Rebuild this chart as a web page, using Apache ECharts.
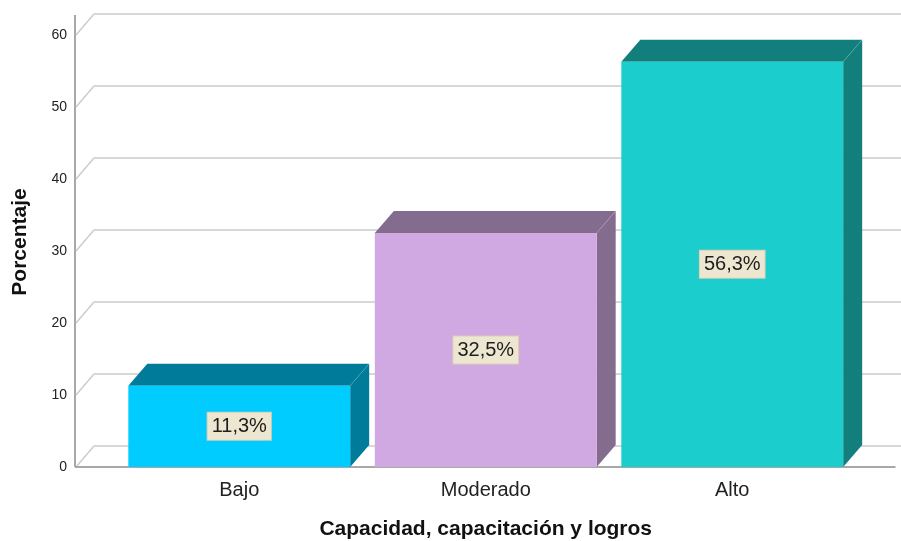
<!DOCTYPE html>
<html>
<head>
<meta charset="utf-8">
<script src="https://cdn.jsdelivr.net/npm/echarts@6/dist/echarts.min.js"></script>
<style>
  html, body { margin: 0; padding: 0; background: #ffffff; }
  #chart { width: 901px; height: 541px; }
</style>
</head>
<body>
<div id="chart"></div>
<script>
// Categories and percentages
var categories = ['Bajo', 'Moderado', 'Alto'];
var percentages = [11.3, 32.5, 56.3];
var yTicks = [0, 10, 20, 30, 40, 50, 60];

// Face colours: front face, and the darker top/side faces
var frontColors = ['#00CCFF', '#D0A9E3', '#1CCDCD'];
var darkColors = ['#007B9A', '#846C8E', '#127F7C'];

// Depth of the 3D effect (pixels)
var DX = 19, DY = 22;
var AXIS_SHIFT = 41; // front y-axis sits to the left of the category band area

var FONT = '"Liberation Sans", Arial, sans-serif';

function fmt(v) { return v.toFixed(1).replace('.', ',') + '%'; }

function renderFrame(params, api) {
  var cs = params.coordSys;
  var v = api.value(1);
  var y = api.coord([0, v])[1];
  var ax = cs.x - AXIS_SHIFT;
  var children = [{
    type: 'polyline',
    shape: { points: [[ax + 1, y], [ax + DX, y - DY + 1], [cs.x + cs.width + 80, y - DY + 1]] },
    style: { stroke: '#cccccc', lineWidth: 1.5, fill: null }
  }];
  if (v === 0) {
    children.push({
      type: 'line',
      shape: { x1: ax, y1: cs.y - 20, x2: ax, y2: y },
      style: { stroke: '#a8a8a8', lineWidth: 2 }
    });
    children.push({
      type: 'line',
      shape: { x1: ax, y1: y, x2: cs.x + cs.width + 40, y2: y },
      style: { stroke: '#a8a8a8', lineWidth: 2 }
    });
  }
  return { type: 'group', children: children };
}

function renderBar(params, api) {
  var i = api.value(0);
  var v = api.value(1);
  var base = api.coord([i, 0]);
  var top = api.coord([i, v]);
  var w = api.size([1, 0])[0] * 0.9;
  var x0 = base[0] - w / 2, x1 = base[0] + w / 2;
  var y0 = base[1], y1 = top[1];
  var front = frontColors[params.dataIndex];
  var dark = darkColors[params.dataIndex];
  return {
    type: 'group',
    children: [
      {
        type: 'polygon',
        shape: { points: [[x1, y1], [x1 + DX, y1 - DY], [x1 + DX, y0 - DY], [x1, y0]] },
        style: { fill: dark }
      },
      {
        type: 'polygon',
        shape: { points: [[x0, y1], [x0 + DX, y1 - DY], [x1 + DX, y1 - DY], [x1, y1]] },
        style: { fill: dark }
      },
      {
        type: 'line',
        shape: { x1: x1, y1: y1, x2: x1 + DX, y2: y1 - DY },
        style: { stroke: 'rgba(255,255,255,0.12)', lineWidth: 1 }
      },
      {
        type: 'rect',
        shape: { x: x0, y: y1, width: w, height: y0 - y1 },
        style: { fill: front }
      },
      {
        type: 'text',
        style: {
          text: fmt(v),
          x: base[0],
          y: (y0 + y1) / 2,
          align: 'center',
          verticalAlign: 'middle',
          fill: '#1e1e1e',
          font: '20px ' + FONT,
          backgroundColor: '#EDE7D2',
          borderColor: '#d8cfb4',
          borderWidth: 1,
          padding: [4, 4, 3, 4]
        }
      }
    ]
  };
}

var chart = echarts.init(document.getElementById('chart'), null, { renderer: 'canvas' });
chart.setOption({
  backgroundColor: '#ffffff',
  animation: false,
  grid: { left: 116, right: 45.5, top: 35, bottom: 74, containLabel: false, outerBoundsMode: 'none' },
  xAxis: {
    type: 'category',
    data: categories,
    axisLine: { show: false },
    axisTick: { show: false },
    axisLabel: { color: '#222', fontSize: 20, fontFamily: FONT, margin: 13 },
    name: 'Capacidad, capacitación y logros',
    nameLocation: 'middle',
    nameGap: 52,
    nameTextStyle: { color: '#111', fontSize: 21, fontWeight: 'bold', fontFamily: FONT }
  },
  yAxis: {
    type: 'value',
    min: 0,
    max: 60,
    interval: 10,
    axisLine: { show: false },
    axisTick: { show: false },
    splitLine: { show: false },
    axisLabel: { color: '#222', fontSize: 14, fontFamily: FONT, margin: 49, padding: [8, 0, 0, 0] },
    name: 'Porcentaje',
    nameLocation: 'middle',
    nameRotate: 90,
    nameGap: 85,
    nameTextStyle: { color: '#111', fontSize: 21, fontWeight: 'bold', fontFamily: FONT, padding: [0, 0, 0, 18] }
  },
  series: [
    {
      type: 'custom',
      z: 1,
      renderItem: renderFrame,
      data: yTicks.map(function (t) { return [0, t]; }),
      silent: true
    },
    {
      type: 'custom',
      z: 5,
      renderItem: renderBar,
      data: percentages.map(function (p, i) { return [i, p]; }),
      silent: true
    }
  ]
});
</script>
</body>
</html>
